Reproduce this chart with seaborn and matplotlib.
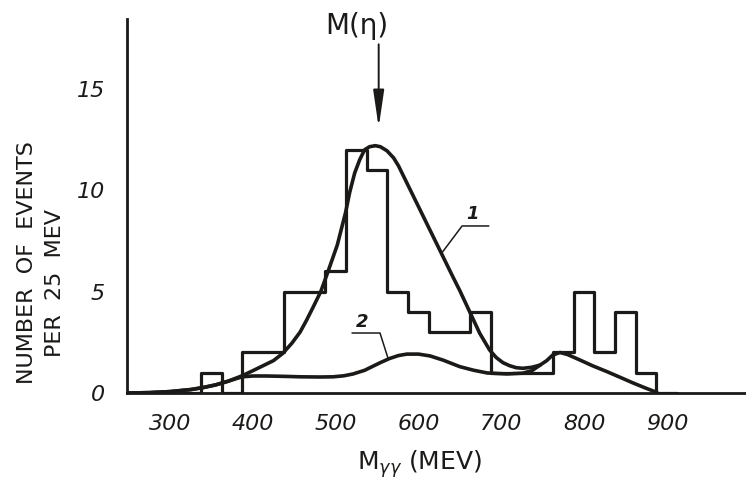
import numpy as np
import matplotlib
matplotlib.use("Agg")
import matplotlib.pyplot as plt
import seaborn as sns

# ---------------- data ----------------
bin_edges = [312.5, 337.5, 362.5, 387.5, 412.5, 437.5, 462.5, 487.5, 512.5,
             537.5, 562.5, 587.5, 612.5, 637.5, 662.5, 687.5, 712.5, 737.5,
             762.5, 787.5, 812.5, 837.5, 862.5, 887.5, 912.5]
bin_counts = [0, 1, 0, 2, 2, 5, 5, 6, 12, 11, 5, 4, 3, 3, 4, 1, 1, 1, 2, 5, 2, 4, 1, 0]

curve1_x = [249, 275, 300, 325, 340, 355, 370, 387, 400, 410, 425, 436, 447, 457,
            465, 473, 482, 490, 496, 502, 512, 517, 523, 529, 535, 541, 548, 554,
            562, 570, 576, 582, 594, 606, 618, 630, 642, 650, 662, 674, 686, 694,
            702, 710, 718, 726, 737, 747, 755, 762, 771, 780, 795, 810, 828, 845,
            859, 874, 888]
curve1_y = [0.0, 0.02, 0.07, 0.17, 0.27, 0.4, 0.58, 0.85, 1.1, 1.3, 1.6, 1.95, 2.45, 3.0,
            3.6, 4.25, 5.0, 5.9, 6.6, 7.3, 8.9, 9.9, 10.85, 11.5, 12.0, 12.15, 12.2, 12.15,
            11.95, 11.6, 11.2, 10.7, 9.7, 8.7, 7.7, 6.7, 5.7, 5.05, 4.0, 2.95, 2.12, 1.75,
            1.5, 1.35, 1.25, 1.22, 1.27, 1.38, 1.6, 1.87, 2.0, 1.9, 1.63, 1.35, 1.05, 0.75,
            0.5, 0.25, 0.03]

curve2_x = [249, 275, 300, 325, 340, 355, 370, 387, 400, 417, 440, 457, 481, 497,
            510, 521, 535, 545, 554, 565, 576, 586, 600, 614, 630, 650, 667, 683,
            707, 726, 737, 747]
curve2_y = [0.0, 0.02, 0.07, 0.17, 0.27, 0.4, 0.58, 0.8, 0.84, 0.84, 0.82, 0.8, 0.79, 0.8,
            0.85, 0.94, 1.12, 1.32, 1.5, 1.7, 1.85, 1.92, 1.92, 1.83, 1.62, 1.3, 1.12, 0.99,
            0.94, 0.98, 1.1, 1.38]

x_ticks = [300, 400, 500, 600, 700, 800, 900]
y_ticks = [0, 5, 10, 15]

# ---------------- style ----------------
sns.set_style("white")
plt.rcParams["font.family"] = ["DejaVu Sans"]
ink = "#1c1a18"

fig = plt.figure(figsize=(7.46, 4.82), dpi=100)
ax = fig.add_axes([0.1702, 0.1846, 0.828, 0.776])

bin_centers = (np.array(bin_edges[:-1]) + np.array(bin_edges[1:])) / 2
sns.histplot(x=bin_centers, weights=bin_counts, bins=bin_edges, element="step",
             fill=False, color=ink, linewidth=2.3, ax=ax)

sns.lineplot(x=curve1_x, y=curve1_y, sort=False, estimator=None, color=ink,
             linewidth=2.6, ax=ax, solid_joinstyle="round", solid_capstyle="round")
sns.lineplot(x=curve2_x, y=curve2_y, sort=False, estimator=None, color=ink,
             linewidth=2.6, ax=ax, solid_joinstyle="round", solid_capstyle="round")

ax.set_xlim(248, 994)
ax.set_ylim(0, 18.45)
ax.set_xticks(x_ticks)
ax.set_yticks(y_ticks)
tick_font = dict(family=["DejaVu Sans"], style="italic", size=16)
ax.set_xticklabels([str(v) for v in x_ticks], **tick_font)
ax.set_yticklabels([str(v) for v in y_ticks], **tick_font)
ax.tick_params(axis="both", direction="out", length=7, width=1.5, color=ink,
               labelcolor=ink)
ax.tick_params(axis="x", pad=8)
ax.tick_params(axis="y", pad=9)

for side in ["top", "right"]:
    ax.spines[side].set_visible(False)
for side in ["left", "bottom"]:
    ax.spines[side].set_color(ink)
    ax.spines[side].set_linewidth(2.0)

ax.set_xlabel(r"M$_{\gamma\gamma}$ (MEV)", fontsize=18, color=ink)
ax.xaxis.set_label_coords((420 - 127) / 618, -0.148)
ax.set_ylabel("NUMBER  OF  EVENTS\nPER  25  MEV      ", fontsize=16, color=ink,
              linespacing=1.5)
ax.yaxis.set_label_coords(-0.100, 0.35)

# annotations
ax.annotate("", xy=(552, 13.1), xytext=(552, 17.2),
            arrowprops=dict(arrowstyle="-|>,head_length=1.5,head_width=0.22",
                            lw=1.4, color=ink, mutation_scale=15,
                            shrinkA=0, shrinkB=0))
ax.text(526, 18.1, "M(η)", fontsize=20, color=ink, ha="center", va="center")

ax.text(665, 8.85, "1", fontsize=13, color=ink, ha="center", va="center",
        style="italic", fontweight="bold")
ax.plot([629, 652.7, 685], [6.95, 8.24, 8.24], color=ink, lw=1.1)

ax.text(532.5, 3.5, "2", fontsize=13, color=ink, ha="center", va="center",
        style="italic", fontweight="bold")
ax.plot([519.8, 553.6, 563], [2.96, 2.96, 1.75], color=ink, lw=1.1)

fig.savefig("out.png", dpi=100, facecolor="white")
